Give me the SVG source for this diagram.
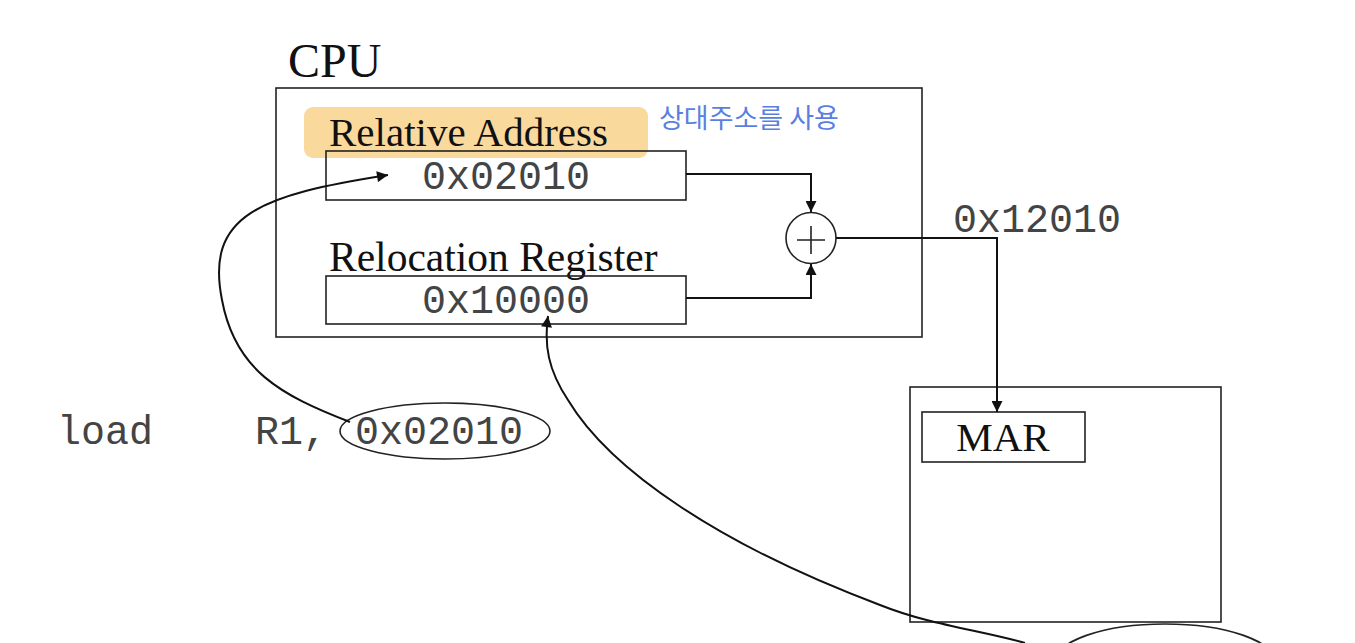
<svg xmlns="http://www.w3.org/2000/svg" width="1355" height="643" viewBox="0 0 1355 643">
<style>
.box{fill:none;stroke:#222;stroke-width:1.6}
.serif{font-family:"Liberation Serif","Times New Roman",serif;fill:#111}
.mono{font-family:"Liberation Mono","Courier New",monospace;fill:#444;font-size:40px}
.ln{fill:none;stroke:#111;stroke-width:2}
.hand{font-family:"Noto Sans CJK KR",sans-serif;fill:#5b7fe0;font-size:27px}
</style>
<defs>
<marker id="ah" viewBox="0 0 10 10" refX="10" refY="5" markerWidth="13" markerHeight="11" markerUnits="userSpaceOnUse" orient="auto">
<path d="M0,0 L10,5 L0,10 z" fill="#111"/>
</marker>
</defs>
<rect width="1355" height="643" fill="#fff"/>
<g id="cpu">
<text class="serif" x="288" y="77" font-size="48">CPU</text>
<rect class="box" x="276" y="88" width="646" height="249"/>
</g>
<g id="highlight">
<rect x="304" y="107" width="344" height="51" rx="9" fill="#f9d592" opacity="0.9"/>
</g>
<g id="note">
<text class="hand" x="659" y="128">상대주소를 사용</text>
</g>
<g id="relative-address">
<text class="serif" x="329" y="146" font-size="41">Relative Address</text>
<rect class="box" x="326" y="151" width="360" height="49" fill="none"/>
<text class="mono" x="506" y="189" text-anchor="middle">0x02010</text>
</g>
<g id="relocation-register">
<text class="serif" x="329" y="271" font-size="41.5">Relocation Register</text>
<rect class="box" x="326" y="276" width="360" height="48"/>
<text class="mono" x="506" y="313" text-anchor="middle">0x10000</text>
</g>
<g id="adder">
<ellipse cx="811" cy="238" rx="25" ry="25.5" fill="#fff" stroke="#222" stroke-width="1.6"/>
<path d="M797,240 H825 M811,226 V254" stroke="#222" stroke-width="1.6"/>
</g>
<g id="result-label">
<text class="mono" x="953" y="232">0x12010</text>
</g>
<g id="memory">
<rect class="box" x="910" y="387" width="311" height="235"/>
</g>
<g id="mar">
<rect class="box" x="922" y="412" width="163" height="50"/>
<text class="serif" x="1003" y="451" font-size="41" text-anchor="middle">MAR</text>
</g>
<g id="instruction">
<text class="mono" x="57" y="444">load</text>
<text class="mono" x="255" y="444">R1,</text>
<text class="mono" x="355" y="444">0x02010</text>
<ellipse cx="445" cy="431" rx="105" ry="28" fill="none" stroke="#222" stroke-width="1.6"/>
</g>
<g id="bottom-ellipse">
<ellipse cx="1165" cy="662" rx="110" ry="38" fill="none" stroke="#222" stroke-width="1.6"/>
</g>
<g id="connectors">
<path class="ln" d="M686,174 H811 V212" marker-end="url(#ah)"/>
<path class="ln" d="M686,298 H811 V264" marker-end="url(#ah)"/>
<path class="ln" d="M836,238 H997 V412" marker-end="url(#ah)"/>
<path class="ln" d="M350,422 C280,395 235,370 222,300 C205,215 260,195 388,175" marker-end="url(#ah)"/>
<path class="ln" d="M1025,643 C980,630 930,625 880,605 C720,545 610,470 568,400 C548,370 544,345 548,316" marker-end="url(#ah)"/>
</g>
</svg>
